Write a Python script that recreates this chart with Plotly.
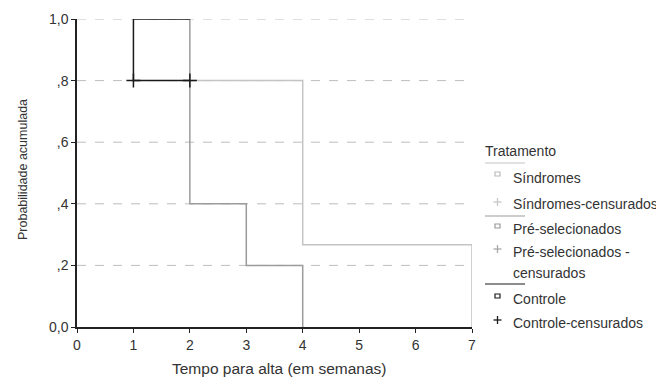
import plotly.graph_objects as go

# ---- data ----
sind_x = [2, 4, 4, 7, 7]
sind_y = [0.8, 0.8, 0.267, 0.267, 0.0]

pre_x = [2, 2, 3, 3, 4, 4]
pre_y = [1.0, 0.4, 0.4, 0.2, 0.2, 0.0]

ctrl_x = [2, 1, 1, 2]
ctrl_y = [1.0, 1.0, 0.8, 0.8]

ctrl_cens_x = [1, 2]
ctrl_cens_y = [0.8, 0.8]

y_ticks = [0.0, 0.2, 0.4, 0.6, 0.8, 1.0]
y_tick_labels = ["0,0", ",2", ",4", ",6", ",8", "1,0"]
x_ticks = [0, 1, 2, 3, 4, 5, 6, 7]

legend_title = "Tratamento"
legend_items = ["Síndromes", "Síndromes-censurados", "Pré-selecionados",
                "Pré-selecionados -", "censurados", "Controle", "Controle-censurados"]

C_SIND = "#c4c4c4"
C_PRE = "#9c9c9c"
C_CTRL = "#1a1a1a"

fig = go.Figure()
fig.add_trace(go.Scatter(x=sind_x, y=sind_y, mode="lines",
                         line=dict(color=C_SIND, width=1.5), cliponaxis=False, showlegend=False))
fig.add_trace(go.Scatter(x=pre_x, y=pre_y, mode="lines",
                         line=dict(color=C_PRE, width=1.5), cliponaxis=False, showlegend=False))
fig.add_trace(go.Scatter(x=ctrl_x, y=ctrl_y, mode="lines",
                         line=dict(color=C_CTRL, width=1.5), cliponaxis=False, showlegend=False))
fig.add_trace(go.Scatter(x=ctrl_cens_x, y=ctrl_cens_y, mode="markers",
                         marker=dict(symbol="cross-thin-open", size=10, color=C_CTRL,
                                     line=dict(color=C_CTRL, width=1.5)),
                         cliponaxis=False, showlegend=False))

# page body margin offset (browser default)
OFF = 8
W, H = 664 - OFF, 378 - OFF
# plot area in reference pixels
L, R, T, B = 77, 472, 19, 327


def px(x):
    return (x - L) / (R - L)


def py(y):
    return (B - y) / (B - T)


shapes = []
annotations = []

# dashed gridlines
for v in y_ticks[1:]:
    shapes.append(dict(type="line", xref="x", yref="y", x0=0, x1=7, y0=v, y1=v,
                       line=dict(color="#bdbdbd", width=1, dash="dash"), layer="below"))

FAM = "Liberation Sans, Arial, sans-serif"
font = dict(family=FAM, size=13, color="#333")

annotations.append(dict(xref="paper", yref="paper", x=px(483), y=py(151), text=legend_title,
                        showarrow=False, xanchor="left", yanchor="middle",
                        font=dict(family=FAM, size=14, color="#333")))

# legend: group lines
for yy, col in [(163, C_SIND), (216, C_PRE), (284, C_CTRL)]:
    shapes.append(dict(type="line", xref="paper", yref="paper", x0=px(485), x1=px(525),
                       y0=py(yy), y1=py(yy), line=dict(color=col, width=1.2)))

# legend markers: squares
for yy, col in [(174, "#bbbbbb"), (226, "#999999"), (296, C_CTRL)]:
    shapes.append(dict(type="rect", xref="paper", yref="paper", x0=px(495), x1=px(500),
                       y0=py(yy + 2), y1=py(yy - 2), line=dict(color=col, width=1.2)))

# legend markers: crosses
for yy, col in [(202, "#c8c8c8"), (249, "#a8a8a8"), (320, C_CTRL)]:
    shapes.append(dict(type="line", xref="paper", yref="paper", x0=px(493.5), x1=px(501.5),
                       y0=py(yy), y1=py(yy), line=dict(color=col, width=1.3)))
    shapes.append(dict(type="line", xref="paper", yref="paper", x0=px(497.5), x1=px(497.5),
                       y0=py(yy - 4), y1=py(yy + 4), line=dict(color=col, width=1.3)))

for txt, yy in zip(legend_items, [178, 204, 229, 252, 273, 299, 323]):
    annotations.append(dict(xref="paper", yref="paper", x=px(511), y=py(yy), text=txt,
                            showarrow=False, xanchor="left", yanchor="middle", align="left",
                            font=dict(family=FAM, size=14, color="#333")))

# y-axis title (condensed face, as in the reference)
annotations.append(dict(xref="paper", yref="paper", x=px(23), y=py(170),
                        text="Probabilidade acumulada", textangle=-90, showarrow=False,
                        xanchor="center", yanchor="middle",
                        font=dict(family="Liberation Sans Narrow, Arial Narrow, sans-serif",
                                  size=12.5, color="#333")))

# x-axis title
annotations.append(dict(xref="paper", yref="paper", x=px(279), y=py(369),
                        text="Tempo para alta (em semanas)", showarrow=False,
                        xanchor="center", yanchor="middle",
                        font=dict(family=FAM, size=15.5, color="#333")))

fig.update_layout(
    width=W, height=H,
    margin=dict(l=L - OFF, r=W - (R - OFF), t=T - OFF, b=H - (B - OFF), autoexpand=False),
    plot_bgcolor="white", paper_bgcolor="white",
    shapes=shapes, annotations=annotations,
    font=font,
    xaxis=dict(range=[0, 7], tickvals=x_ticks, ticktext=[str(v) for v in x_ticks],
               showgrid=False, zeroline=False, showline=True, linecolor="#222", linewidth=1.5,
               ticks="outside", ticklen=4, tickcolor="#222", tickwidth=1.2, automargin=False,
               tickfont=dict(size=14)),
    yaxis=dict(range=[0, 1], tickvals=y_ticks, ticktext=y_tick_labels,
               showgrid=False, zeroline=False, showline=True, linecolor="#222", linewidth=1.5,
               ticks="outside", ticklen=4, tickcolor="#222", tickwidth=1.2, automargin=False,
               tickfont=dict(size=14)),
)

fig.write_html("out.html")
